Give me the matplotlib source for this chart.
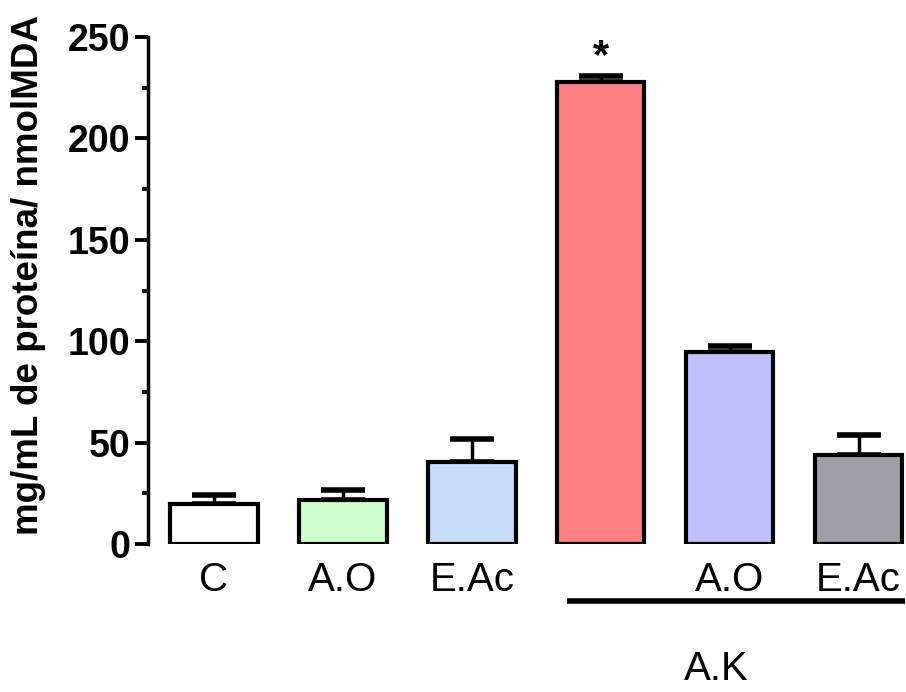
import matplotlib
matplotlib.use("Agg")
import matplotlib.pyplot as plt
import matplotlib.transforms as mtransforms
import numpy as np

plt.rcParams['font.family'] = ['Liberation Sans', 'DejaVu Sans']

labels = ["C", "A.O", "E.Ac", "", "A.O", "E.Ac"]
values = [19.7, 21.7, 40.6, 228.0, 94.8, 43.9]
errors = [4.3, 4.9, 11.2, 3.0, 3.0, 9.8]
colors = ["#FFFFFF", "#CCFFCC", "#C8DDF6", "#FF8080", "#C0C0FF", "#A09FA5"]
group_label = "A.K"
ylabel = "mg/mL de proteína/ nmolMDA"

fig = plt.figure(figsize=(9.06, 6.92), dpi=100)
ax = fig.add_axes([148/906, 148/692, (905-148)/906, 507/692])

x = np.arange(len(values))
ax.bar(x, values, width=0.68, color=colors, edgecolor="black", linewidth=3.0, zorder=2)
ax.errorbar(x, values, yerr=[np.zeros(len(errors)), errors], fmt="none", ecolor="black",
            elinewidth=2.5, capsize=16, capthick=4, zorder=1)

ax.set_xlim(-0.51, 5.36)
ax.set_ylim(0, 250)
for s in ["top", "right", "bottom"]:
    ax.spines[s].set_visible(False)
ax.spines["left"].set_linewidth(2.5)
ax.set_yticks(np.arange(0, 251, 50))
ax.set_yticks(np.arange(25, 250, 50), minor=True)
ax.tick_params(axis="y", which="major", length=9.5, width=2.8, labelsize=27, pad=3)
ax.tick_params(axis="y", which="minor", length=4.5, width=2.8)
for t in ax.get_yticklabels():
    t.set_fontweight("bold")
ax.set_xticks(x)
ax.set_xticklabels(labels, fontsize=29)
ax.tick_params(axis="x", length=0, pad=12)
ax.set_ylabel(ylabel, fontsize=26.5, fontweight="bold")
ax.yaxis.set_label_coords(-0.135, 0.53)

ax.text(3, values[3] + errors[3] - 1, "*", ha="center", va="bottom", fontsize=30, fontweight="bold")

trans = mtransforms.blended_transform_factory(ax.transData, ax.transAxes)
ax.plot([2.74, 5.36], [-0.112, -0.112], color="black", linewidth=4, transform=trans, clip_on=False,
        solid_capstyle="butt")
ax.text(3.9, -0.268, group_label, transform=trans, ha="center", va="baseline", fontsize=29)

fig.savefig("out.png", dpi=100)
